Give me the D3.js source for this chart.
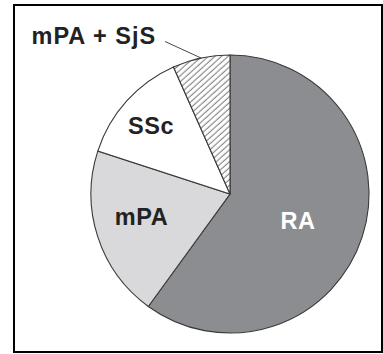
<!DOCTYPE html>
<html><head><meta charset="utf-8">
<script src="https://cdn.jsdelivr.net/npm/d3@7"></script>
<style>html,body{margin:0;padding:0;background:#fff;}svg{display:block;}</style>
</head><body>
<script>
const categories = ["RA", "mPA", "SSc", "mPA + SjS"];
const values = [9, 3, 2, 1];
const fills = ["#8c8d90", "#d9d9db", "#ffffff", "url(#hatch)"];
const labelColors = ["#ffffff", "#222222", "#222222", "#222222"];

const W = 383, H = 354;
const cx = 230, cy = 194, R = 139;

const svg = d3.select("body").append("svg").attr("width", W).attr("height", H);
const defs = svg.append("defs");
const pat = defs.append("pattern").attr("id", "hatch")
  .attr("patternUnits", "userSpaceOnUse").attr("width", 10).attr("height", 4.4)
  .attr("patternTransform", "rotate(-42)");
pat.append("rect").attr("width", 10).attr("height", 4.4).attr("fill", "#fff");
pat.append("line").attr("x1", 0).attr("x2", 10).attr("y1", 2).attr("y2", 2)
  .attr("stroke", "#666").attr("stroke-width", 0.9);

svg.append("rect").attr("x", 14).attr("y", 5).attr("width", 368).attr("height", 347)
  .attr("fill", "none").attr("stroke", "#000").attr("stroke-width", 2);

const pie = d3.pie().sort(null).value(d => d)(values);
const arc = d3.arc().innerRadius(0).outerRadius(R);
const g = svg.append("g").attr("transform", `translate(${cx},${cy})`);
g.selectAll("path").data(pie).join("path")
  .attr("d", arc)
  .attr("fill", (d, i) => fills[i])
  .attr("stroke", "#3a3a3a").attr("stroke-width", 1.1);

// inner labels
const labelPos = [[298, 229], [141.5, 225], [151, 134]];
const txt = svg.append("g").attr("font-family", "Liberation Sans, Arial, sans-serif")
  .attr("font-weight", "bold").attr("font-size", 23.5);
labelPos.forEach((p, i) => {
  txt.append("text").attr("x", p[0]).attr("y", p[1]).attr("text-anchor", "middle")
    .attr("fill", labelColors[i]).attr("letter-spacing", 0.5).text(categories[i]);
});
// outer label with leader line
const last = pie[3];
const mid = (last.startAngle + last.endAngle) / 2;
const ex = cx + R * Math.sin(mid), ey = cy - R * Math.cos(mid);
svg.append("line").attr("x1", 165).attr("y1", 41.5).attr("x2", ex).attr("y2", ey)
  .attr("stroke", "#333").attr("stroke-width", 0.9);
txt.append("text").attr("x", 31.5).attr("y", 44).attr("fill", labelColors[3])
  .attr("letter-spacing", 1).text(categories[3]);
</script>
</body></html>
